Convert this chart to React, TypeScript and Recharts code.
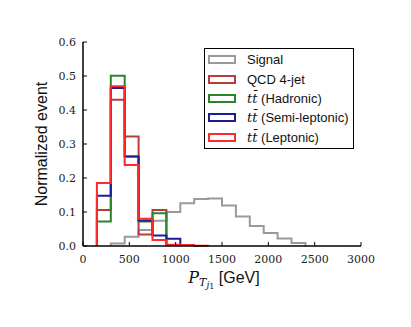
import React from 'react';
import { ComposedChart, Line, XAxis, YAxis, Label } from 'recharts';

// bin edges in GeV (150 GeV bins)
const BIN_EDGES = [150, 300, 450, 600, 750, 900, 1050, 1200, 1350, 1500, 1650, 1800, 1950, 2100, 2250, 2400];

const SIGNAL = [0, 0.007, 0.027, 0.047, 0.074, 0.100, 0.126, 0.138, 0.140, 0.119, 0.087, 0.059, 0.038, 0.022, 0.009];
const QCD_4JET = [0.106, 0.430, 0.322, 0.034, 0.106, 0, 0, 0, 0, 0, 0, 0, 0, 0, 0];
const TT_HADRONIC = [0.072, 0.501, 0.263, 0.072, 0.096, 0, 0, 0, 0, 0, 0, 0, 0, 0, 0];
const TT_SEMILEP = [0.148, 0.465, 0.263, 0.075, 0.031, 0.021, 0, 0, 0, 0, 0, 0, 0, 0, 0];
const TT_LEPTONIC = [0.185, 0.470, 0.238, 0.080, 0.018, 0.004, 0.003, 0.001, 0, 0, 0, 0, 0, 0, 0];

const X_TICKS = [0, 500, 1000, 1500, 2000, 2500, 3000];
const Y_TICKS = [0, 0.1, 0.2, 0.3, 0.4, 0.5, 0.6];

const SERIES = [
  { name: 'Signal', values: SIGNAL, color: '#9a9a9a' },
  { name: 'QCD 4-jet', values: QCD_4JET, color: '#b83c3c' },
  { name: 'tt\u0304 (Hadronic)', values: TT_HADRONIC, color: '#2a852a' },
  { name: 'tt\u0304 (Semi-leptonic)', values: TT_SEMILEP, color: '#1c1c96' },
  { name: 'tt\u0304 (Leptonic)', values: TT_LEPTONIC, color: '#ff2a2a' },
];

const SERIF = '"DejaVu Serif", serif';
const SANS = '"Liberation Sans", Arial, sans-serif';
const TICK_LEN = 4;

// matplotlib-style step histogram outline
function stepPoints(values: number[]) {
  const first = values.findIndex(v => v > 0);
  let last = values.length - 1;
  while (last > first && values[last] === 0) last--;
  const pts = [{ x: BIN_EDGES[first], y: 0 }];
  for (let i = first; i <= last; i++) pts.push({ x: BIN_EDGES[i], y: values[i] });
  pts.push({ x: BIN_EDGES[last + 1], y: 0 });
  return pts;
}

const BottomTick = (props: any) => {
  const { x, y, payload } = props;
  return (
    <g>
      <line x1={x} x2={x} y1={y} y2={y - TICK_LEN} stroke="#000" strokeWidth={1} />
      <text x={x} y={y + 17} textAnchor="middle" fontFamily={SERIF} fontSize={11} fill="#222">
        {payload.value}
      </text>
    </g>
  );
};

const LeftTick = (props: any) => {
  const { x, y, payload } = props;
  return (
    <g>
      <line x1={x} x2={x + TICK_LEN} y1={y} y2={y} stroke="#000" strokeWidth={1} />
      <text x={x - 7} y={y + 4} textAnchor="end" fontFamily={SERIF} fontSize={11} fill="#222">
        {payload.value.toFixed(1)}
      </text>
    </g>
  );
};

const TopTick = (props: any) => {
  const { x, y } = props;
  return <line x1={x} x2={x} y1={y} y2={y + TICK_LEN} stroke="#000" strokeWidth={1} />;
};

const RightTick = (props: any) => {
  const { x, y } = props;
  return <line x1={x} x2={x - TICK_LEN} y1={y} y2={y} stroke="#000" strokeWidth={1} />;
};

const XLabel = (props: any) => {
  const { viewBox } = props;
  const cx = viewBox.x + viewBox.width / 2;
  const by = viewBox.y + 37;
  return (
    <text x={cx + 2} y={by} textAnchor="middle" fill="#111">
      <tspan fontFamily={SERIF} fontStyle="italic" fontSize={16}>P</tspan>
      <tspan fontFamily={SERIF} fontStyle="italic" fontSize={11} dy={3}>T</tspan>
      <tspan fontFamily={SERIF} fontStyle="italic" fontSize={9} dy={2}>j</tspan>
      <tspan fontFamily={SERIF} fontSize={8} dy={1}>1</tspan>
      <tspan fontFamily={SANS} fontSize={16} dy={-6}>{' [GeV]'}</tspan>
    </text>
  );
};

const YLabel = (props: any) => {
  const { viewBox } = props;
  const cy = viewBox.y + viewBox.height / 2;
  return (
    <text x={47} y={cy} transform={`rotate(-90, 47, ${cy})`} textAnchor="middle"
      fontFamily={SANS} fontSize={16} fill="#111">
      Normalized event
    </text>
  );
};

function LegendName({ name }: { name: string }) {
  if (name.startsWith('tt\u0304')) {
    return (
      <span>
        <span style={{ fontFamily: SERIF, fontStyle: 'italic' }}>tt{'\u0304'}</span>
        {name.slice(3)}
      </span>
    );
  }
  return <span>{name}</span>;
}

export default function App() {
  return (
    <div style={{ position: 'absolute', left: 0, top: 0, width: 411, height: 327, background: '#fff' }}>
      <ComposedChart width={411} height={327} margin={{ top: 42, right: 50, bottom: 0, left: 0 }}>
        <XAxis dataKey="x" type="number" domain={[0, 3000]} ticks={X_TICKS} interval={0}
          height={81} tickSize={0} tickMargin={0} tickLine={false} tick={<BottomTick />}
          axisLine={{ stroke: '#000', strokeWidth: 1.5 }}>
          <Label content={<XLabel />} />
        </XAxis>
        <XAxis xAxisId="top" orientation="top" dataKey="x" type="number" domain={[0, 3000]} ticks={X_TICKS}
          interval={0} height={0} tickSize={0} tickMargin={0} tickLine={false} tick={<TopTick />}
          axisLine={{ stroke: '#000', strokeWidth: 1.5 }} />
        <YAxis type="number" domain={[0, 0.6]} ticks={Y_TICKS} interval={0} width={83}
          tickSize={0} tickMargin={0} tickLine={false} tick={<LeftTick />}
          axisLine={{ stroke: '#000', strokeWidth: 1.5 }}>
          <Label content={<YLabel />} />
        </YAxis>
        <YAxis yAxisId="right" orientation="right" type="number" domain={[0, 0.6]} ticks={Y_TICKS}
          interval={0} width={0} tickSize={0} tickMargin={0} tickLine={false} tick={<RightTick />}
          axisLine={{ stroke: '#000', strokeWidth: 1.5 }} />
        {SERIES.map(s => (
          <Line key={s.name} name={s.name} data={stepPoints(s.values)} dataKey="y" type="stepAfter"
            stroke={s.color} strokeWidth={2} dot={false} activeDot={false} isAnimationActive={false} />
        ))}
      </ComposedChart>

      <div style={{
        position: 'absolute', left: 204, top: 48, width: 150, height: 101, boxSizing: 'border-box',
        border: '1.5px solid #000', background: '#fff', paddingTop: 1,
      }}>
        {SERIES.map(s => (
          <div key={s.name} style={{ display: 'flex', alignItems: 'center', height: 19.4 }}>
            <div style={{
              marginLeft: 3, width: 28, height: 9, boxSizing: 'border-box',
              border: `2px solid ${s.color}`, flexShrink: 0,
            }} />
            <div style={{ marginLeft: 11, fontFamily: SANS, fontSize: 13, color: '#111', whiteSpace: 'nowrap' }}>
              <LegendName name={s.name} />
            </div>
          </div>
        ))}
      </div>
    </div>
  );
}
